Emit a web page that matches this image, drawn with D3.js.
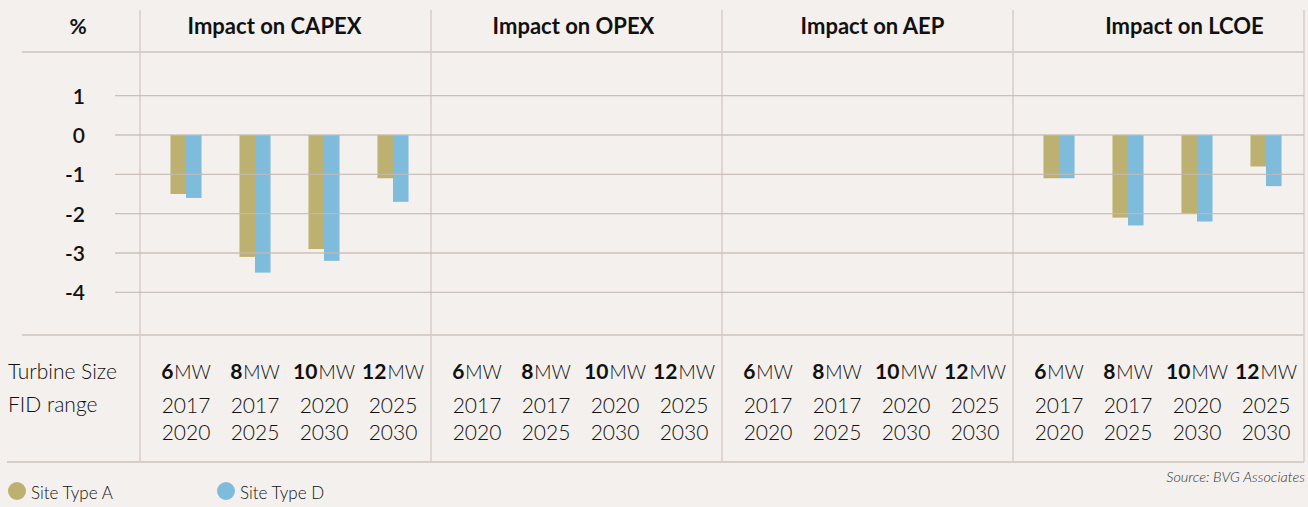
<!DOCTYPE html>
<html>
<head>
<meta charset="utf-8">
<script src="https://cdn.jsdelivr.net/npm/d3@7"></script>
<style>
  html, body { margin: 0; padding: 0; background: #f3f0ed; }
  svg { display: block; font-family: Lato, "Open Sans", sans-serif; }
</style>
</head>
<body>
<svg id="chart" width="1308" height="507"></svg>
<script>
// chart data
const panels = ['Impact on CAPEX', 'Impact on OPEX', 'Impact on AEP', 'Impact on LCOE'];
const sizes = ['6', '8', '10', '12'];
const fidStart = ['2017', '2017', '2020', '2025'];
const fidEnd = ['2020', '2025', '2030', '2030'];
const seriesNames = ['Site Type A', 'Site Type D'];
const siteA = [
  [-1.5, -3.1, -2.9, -1.1],
  [0, 0, 0, 0],
  [0, 0, 0, 0],
  [-1.1, -2.1, -2.0, -0.8]
];
const siteD = [
  [-1.6, -3.5, -3.2, -1.7],
  [0, 0, 0, 0],
  [0, 0, 0, 0],
  [-1.1, -2.3, -2.2, -1.3]
];
const yTicks = [1, 0, -1, -2, -3, -4];

const colors = d3.scaleOrdinal().domain(seriesNames).range(['#bdb172', '#7fbcdc']);

const svg = d3.select('#chart');
const lineColor = '#d8cec8';
const gridColor = '#c4b8b0';

// layout
const panelX = d3.scaleBand().domain(panels).range([140, 1304]);
const y = d3.scaleLinear().domain([-4, 1]).range([292.3, 95.7]);
const titleShift = [-11, -3, 5, 26];

// frame lines
svg.append('line').attr('x1', 22).attr('x2', 1304).attr('y1', 52).attr('y2', 52)
  .attr('stroke', lineColor).attr('stroke-width', 2);
svg.append('line').attr('x1', 22).attr('x2', 1304).attr('y1', 335).attr('y2', 335)
  .attr('stroke', lineColor).attr('stroke-width', 2);
svg.append('line').attr('x1', 7).attr('x2', 1304).attr('y1', 462).attr('y2', 462)
  .attr('stroke', lineColor).attr('stroke-width', 2);

const seps = panels.map(p => panelX(p)).concat([1304]);
svg.selectAll('.sep').data(seps).join('line')
  .attr('class', 'sep')
  .attr('x1', d => d).attr('x2', d => d)
  .attr('y1', 10).attr('y2', 462)
  .attr('stroke', lineColor).attr('stroke-width', 1.5);

// header
svg.append('text').attr('x', 78).attr('y', 34).attr('text-anchor', 'middle')
  .attr('font-weight', 700).attr('font-size', 21).attr('fill', '#111').text('%');

svg.selectAll('.title').data(panels).join('text')
  .attr('class', 'title')
  .attr('x', (d, i) => panelX(d) + panelX.bandwidth() / 2 + titleShift[i])
  .attr('y', 34)
  .attr('text-anchor', 'middle')
  .attr('font-weight', 700).attr('font-size', 22).attr('fill', '#111')
  .text(d => d);

// y axis labels (plain hyphen for negatives, as in the original)
const yAxis = d3.axisLeft(y).tickValues(yTicks).tickFormat(d => String(d)).tickSize(0).tickPadding(0);
const yg = svg.append('g').attr('transform', 'translate(85,0)').call(yAxis);
yg.select('.domain').remove();
yg.selectAll('text')
  .attr('font-family', 'Lato, sans-serif')
  .attr('font-size', 21).attr('font-weight', 600).attr('fill', '#111')
  .attr('dy', '0.36em');

// bars
const inner = d3.scaleBand().domain(sizes).range([11.5, 287.5]).paddingInner(0.55).paddingOuter(0.275);
const sub = d3.scaleBand().domain(seriesNames).range([0, inner.bandwidth()]);

panels.forEach((p, pi) => {
  const g = svg.append('g').attr('transform', `translate(${panelX(p)},0)`);
  const rows = sizes.map((s, i) => ({ size: s, vals: [siteA[pi][i], siteD[pi][i]] }));
  g.selectAll('.grp').data(rows).join('g')
    .attr('class', 'grp')
    .attr('transform', d => `translate(${inner(d.size)},0)`)
    .selectAll('rect')
    .data(d => d.vals.map((v, k) => ({ key: seriesNames[k], value: v })))
    .join('rect')
    .attr('x', d => sub(d.key))
    .attr('width', sub.bandwidth())
    .attr('y', d => y(Math.max(0, d.value)))
    .attr('height', d => Math.abs(y(d.value) - y(0)))
    .attr('fill', d => colors(d.key));

  // bottom category labels
  const lab = g.selectAll('.lab').data(sizes).join('g')
    .attr('class', 'lab')
    .attr('transform', d => `translate(${inner(d) + inner.bandwidth() / 2},0)`);
  const mw = lab.append('text').attr('y', 379).attr('text-anchor', 'middle')
    .attr('fill', '#111');
  mw.append('tspan').attr('font-weight', 700).attr('font-size', 21).text(d => d);
  mw.append('tspan').attr('font-weight', 300).attr('font-size', 19).attr('dx', 1).text('MW');
  lab.append('text').attr('y', 413).attr('text-anchor', 'middle')
    .attr('font-size', 21).attr('font-weight', 300).attr('fill', '#111')
    .text((d, i) => fidStart[i]);
  lab.append('text').attr('y', 440).attr('text-anchor', 'middle')
    .attr('font-size', 21).attr('font-weight', 300).attr('fill', '#111')
    .text((d, i) => fidEnd[i]);
});

// gridlines on top of bars (the bars show them through)
svg.selectAll('.grid').data(yTicks).join('line')
  .attr('class', 'grid')
  .attr('x1', 115).attr('x2', 1304)
  .attr('y1', d => y(d)).attr('y2', d => y(d))
  .attr('stroke', gridColor).attr('stroke-opacity', 0.85).attr('stroke-width', 1.3);

// row labels
svg.append('text').attr('x', 8).attr('y', 379).attr('font-size', 21).attr('font-weight', 300).attr('fill', '#111').text('Turbine Size');
svg.append('text').attr('x', 8).attr('y', 412).attr('font-size', 21).attr('font-weight', 300).attr('fill', '#111').text('FID range');

// legend
const leg = svg.selectAll('.leg').data(seriesNames).join('g')
  .attr('class', 'leg')
  .attr('transform', (d, i) => `translate(${[17, 226][i]},491)`);
leg.append('circle').attr('r', 9).attr('fill', d => colors(d));
leg.append('text').attr('x', 14).attr('y', 8).attr('font-size', 17).attr('font-weight', 300).attr('fill', '#111').text(d => d);

// source
svg.append('text').attr('x', 1305).attr('y', 482).attr('text-anchor', 'end')
  .attr('font-size', 14.5).attr('font-style', 'italic').attr('font-weight', 300).attr('fill', '#333')
  .text('Source: BVG Associates');
</script>
</body>
</html>
